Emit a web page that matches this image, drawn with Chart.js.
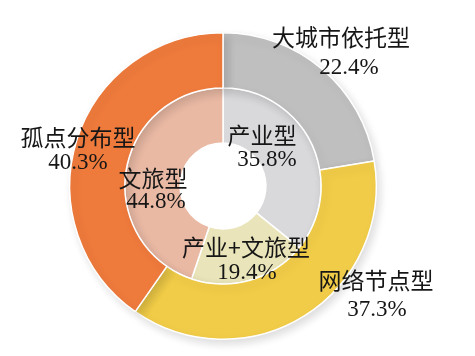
<!DOCTYPE html>
<html>
<head>
<meta charset="utf-8">
<script src="https://cdn.jsdelivr.net/npm/chart.js@4/dist/chart.umd.min.js"></script>
<style>
html,body{margin:0;padding:0;background:#fff;}
#wrap{width:475px;height:356px;position:relative;}
</style>
</head>
<body>
<div id="wrap"><canvas id="c" width="475" height="356"></canvas></div>
<script>
// Outer ring (clockwise from 12 o'clock)
const outerLabels = ['大城市依托型', '网络节点型', '孤点分布型'];
const outerValues = [22.4, 37.3, 40.3];
// Inner ring
const innerLabels = ['产业型', '产业+文旅型', '文旅型'];
const innerValues = [35.8, 19.4, 44.8];

const outerColors = ['#bfbfc0', '#f0cc48', '#ee7a3c'];
const innerColors = ['#d9d9dc', '#e9e4b9', '#e9b9a4'];

// label placement (offsets from chart center, px) for name line and value line
const outerPos = [[118, -149, 126, -118], [153, 94, 154, 124], [-145, -49, -145, -23]];
const innerPos = [[39, -51, 44, -26], [23, 61, 24, 87], [-70, -8, -67, 16]];

const labelPlugin = {
  id: 'ringLabels',
  afterDraw(chart) {
    const ctx = chart.ctx;
    const meta = chart.getDatasetMeta(0);
    const arc = meta.data[0];
    const cx = arc.x, cy = arc.y;
    ctx.save();
    ctx.textAlign = 'center';
    ctx.textBaseline = 'middle';
    ctx.fillStyle = '#161616';
    const draw = (names, vals, pos) => {
      names.forEach((n, i) => {
        const p = pos[i];
        ctx.font = '23px "Noto Sans CJK SC"';
        ctx.fillText(n, cx + p[0], cy + p[1]);
        ctx.font = '23px "Liberation Serif"';
        ctx.fillText(vals[i].toFixed(1) + '%', cx + p[2], cy + p[3]);
      });
    };
    draw(outerLabels, outerValues, outerPos);
    draw(innerLabels, innerValues, innerPos);
    ctx.restore();
  }
};

const shadowPlugin = {
  id: 'ringShadow',
  beforeDatasetDraw(chart, args) {
    if (args.index === 0) {
      const ctx = chart.ctx;
      ctx.save();
      ctx.shadowColor = 'rgba(0,0,0,0.14)';
      ctx.shadowBlur = 10;
      ctx.shadowOffsetX = 3;
      ctx.shadowOffsetY = 4;
    }
  },
  afterDatasetDraw(chart, args) {
    if (args.index === 0) chart.ctx.restore();
  }
};

new Chart(document.getElementById('c'), {
  type: 'doughnut',
  data: {
    labels: outerLabels,
    datasets: [
      { data: outerValues, backgroundColor: outerColors, borderColor: '#ffffff', borderWidth: 1.5 },
      { data: innerValues, backgroundColor: innerColors, borderColor: '#ffffff', borderWidth: 1.5 }
    ]
  },
  options: {
    responsive: false,
    animation: false,
    cutout: '28%',
    layout: { padding: { top: 32, bottom: 16, left: 0, right: 29 } },
    plugins: { legend: { display: false }, tooltip: { enabled: false } }
  },
  plugins: [shadowPlugin, labelPlugin]
});
</script>
</body>
</html>
